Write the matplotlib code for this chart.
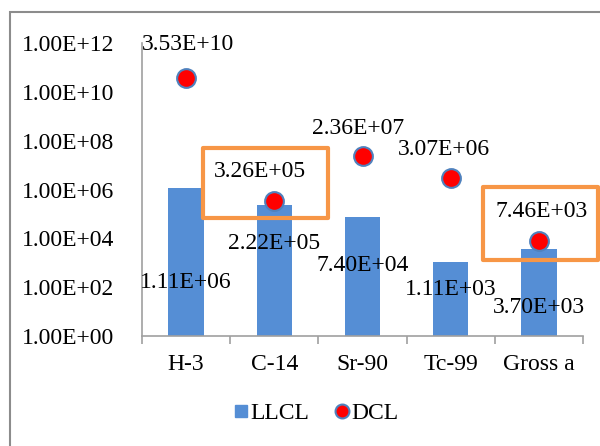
import matplotlib.pyplot as plt
import numpy as np
from matplotlib.patches import Rectangle
from matplotlib.lines import Line2D

# data
nuclides = ["H-3", "C-14", "Sr-90", "Tc-99", "Gross a"]
llcl = [1.11e6, 2.22e5, 7.40e4, 1.11e3, 3.70e3]
dcl = [3.53e10, 3.26e5, 2.36e7, 3.07e6, 7.46e3]
llcl_text = ["1.11E+06", "2.22E+05", "7.40E+04", "1.11E+03", "3.70E+03"]
dcl_text = ["3.53E+10", "3.26E+05", "2.36E+07", "3.07E+06", "7.46E+03"]
yticks = [1e0, 1e2, 1e4, 1e6, 1e8, 1e10, 1e12]
ytick_text = ["1.00E+00", "1.00E+02", "1.00E+04", "1.00E+06", "1.00E+08", "1.00E+10", "1.00E+12"]

# label placement (log10 height of the bar labels, pixel offsets of dot labels)
bar_lab_pos = [2.2, 3.8, 2.9, 1.9, 1.15]
dot_lab_off = [(2, 34), (-14, 30), (-4, 27), (-7, 28), (3, 30)]

plt.rcParams['font.family'] = ['Liberation Serif', 'DejaVu Serif']
fs = 17

fig = plt.figure(figsize=(6, 4.46), dpi=100)
ax = fig.add_axes([0.2367, 0.2466, 0.735, 0.657])

x = np.arange(len(nuclides))
ax.bar(x, llcl, width=0.4, color='#558ED5', zorder=2)
ax.plot(x, dcl, 'o', ms=13.5, mfc='#FF0000', mec='#4F81BD', mew=1.5, zorder=4)

ax.set_yscale('log')
ax.set_ylim(1, 1e12)
ax.set_xlim(-0.5, 4.5)
ax.set_yticks(yticks)
ax.set_yticklabels(ytick_text, fontsize=fs)
ax.yaxis.set_minor_locator(plt.NullLocator())
ax.tick_params(axis='y', length=0, pad=20)
ax.set_xticks(x)
ax.set_xticklabels(nuclides, fontsize=fs)
ax.tick_params(axis='x', length=0, pad=13)
# boundary tick marks on x axis
ax.set_xticks(np.arange(-0.5, 5, 1), minor=True)
ax.tick_params(axis='x', which='minor', length=6, color='#A0A0A0', width=1.2)

for s in ['top', 'right']:
    ax.spines[s].set_visible(False)
for s in ['left', 'bottom']:
    ax.spines[s].set_color('#A0A0A0')
    ax.spines[s].set_linewidth(1.2)

for i in range(len(nuclides)):
    ax.text(x[i], 10 ** bar_lab_pos[i], llcl_text[i], ha='center', va='center',
            fontsize=fs, zorder=5)
    ax.annotate(dcl_text[i], (x[i], dcl[i]), xytext=dot_lab_off[i],
                textcoords='offset pixels', ha='center', va='center',
                fontsize=fs, zorder=5, annotation_clip=False)

# orange highlight boxes
for (x0, x1, y0, y1) in [(0.19, 1.61, 4.83, 7.70), (3.37, 4.67, 3.11, 6.10)]:
    ax.add_patch(Rectangle((x0, 10 ** y0), x1 - x0, 10 ** y1 - 10 ** y0,
                           fill=False, ec='#F79646', lw=3, zorder=6,
                           clip_on=False, joinstyle='round'))

h_bar = Line2D([], [], ls='', marker='s', ms=9, mfc='#558ED5', mec='#558ED5')
h_dot = Line2D([], [], ls='', marker='o', ms=10, mfc='#FF0000', mec='#4F81BD', mew=1.5)
leg = fig.legend([h_bar, h_dot], ['LLCL', 'DCL'], loc='center',
                 bbox_to_anchor=(0.527, 0.073), ncol=2, frameon=False,
                 fontsize=fs, handlelength=0.6, handletextpad=0.1,
                 columnspacing=1.1)

# outer chart border (left and top visible)
fig.patches.append(Rectangle((9.5 / 600, -0.1), 1.2, 1.1 - 12 / 446, transform=fig.transFigure,
                             fill=False, ec='#8C8C8C', lw=1.5))

fig.savefig('out.png', dpi=100)
